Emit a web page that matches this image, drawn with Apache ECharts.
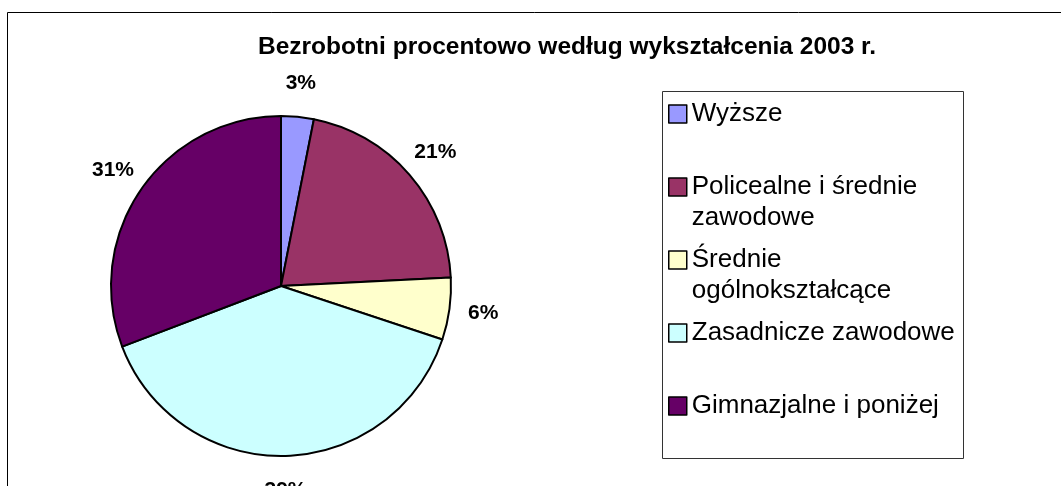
<!DOCTYPE html>
<html>
<head>
<meta charset="utf-8">
<script src="https://cdn.jsdelivr.net/npm/echarts@6/dist/echarts.min.js"></script>
<style>
  html, body { margin: 0; padding: 0; background: #fff; }
  #bezrobotni { width: 1061px; height: 486px; }
</style>
</head>
<body>
<div id="bezrobotni"></div>
<script>
// dane
var chart_title = 'Bezrobotni procentowo według wykształcenia 2003 r.';
var edu_names = ['Wyższe', 'Policealne i średnie zawodowe', 'Średnie ogólnokształcące', 'Zasadnicze zawodowe', 'Gimnazjalne i poniżej'];
// etykiety legendy (z podziałem linii jak w oryginale)
var edu_legend_labels = ['Wyższe', 'Policealne i średnie\nzawodowe', 'Średnie\nogólnokształcące', 'Zasadnicze zawodowe', 'Gimnazjalne i poniżej'];
var edu_values = [3.1, 21.1, 5.9, 39.1, 30.8];
var edu_colors = ['#9999ff', '#993366', '#ffffcc', '#ccffff', '#660066'];

var edu_data = [];
for (var i = 0; i < edu_names.length; i++) {
  edu_data.push({ name: edu_names[i], value: edu_values[i] });
}

var bezChart = echarts.init(document.getElementById('bezrobotni'));

var font = "'Liberation Sans', Arial, sans-serif";
var legendLineH = 31;

// osobna legenda dla kazdej pozycji - ikonka rowno z pierwsza linia tekstu
var legends = [];
for (var j = 0; j < edu_names.length; j++) {
  var lbl = edu_legend_labels[j];
  var nLines = lbl.split('\n').length;
  // pusta linia na gorze, zeby pierwsza linia tekstu byla na srodku (przy ikonce)
  var txt = nLines > 1 ? '\n' + lbl : lbl;
  var totalLines = nLines > 1 ? nLines + 1 : 1;
  var iconCenter = 114 + 73 * j;
  legends.push({
    orient: 'vertical',
    left: 668,
    top: iconCenter - totalLines * legendLineH / 2,
    padding: 0,
    itemWidth: 18,
    itemHeight: 18,
    icon: 'rect',
    selectedMode: false,
    data: [edu_names[j]],
    itemStyle: { borderColor: '#000', borderWidth: 1.5 },
    formatter: (function (t) { return function () { return t; }; })(txt),
    textStyle: {
      fontFamily: font,
      fontSize: 26,
      lineHeight: legendLineH,
      color: '#000'
    }
  });
}

var option = {
  backgroundColor: '#ffffff',
  color: edu_colors,
  animation: false,
  title: {
    text: chart_title,
    left: 562,
    top: 30,
    textAlign: 'center',
    textStyle: { fontFamily: font, fontSize: 24.5, fontWeight: 'bold', color: '#000' }
  },
  legend: legends,
  graphic: [
    // ramka wykresu
    {
      type: 'rect', z: -1, silent: true,
      shape: { x: 7.5, y: 12.5, width: 1200, height: 600 },
      style: { fill: 'none', stroke: '#000', lineWidth: 1 }
    },
    // ramka legendy
    {
      type: 'rect', z: -1, silent: true,
      shape: { x: 662.5, y: 91.5, width: 301, height: 367 },
      style: { fill: 'none', stroke: '#333', lineWidth: 1 }
    }
  ],
  series: [
    {
      type: 'pie',
      center: [281, 286],
      radius: 170,
      startAngle: 90,
      clockwise: true,
      data: edu_data,
      label: { show: false },
      labelLine: { show: false },
      itemStyle: { borderColor: '#000', borderWidth: 2 },
      emphasis: { disabled: true }
    },
    // niewidoczny pierscien tylko dla etykiet procentowych
    {
      type: 'pie',
      center: [281, 286],
      radius: [190, 212],
      startAngle: 90,
      clockwise: true,
      silent: true,
      legendHoverLink: false,
      percentPrecision: 0,
      data: edu_data,
      itemStyle: { color: 'rgba(0,0,0,0)' },
      label: {
        show: true,
        position: 'inside',
        formatter: '{d}%',
        fontFamily: font,
        fontSize: 21,
        fontWeight: 'bold',
        color: '#000'
      },
      labelLine: { show: false },
      emphasis: { disabled: true }
    }
  ]
};

bezChart.setOption(option);
</script>
</body>
</html>
